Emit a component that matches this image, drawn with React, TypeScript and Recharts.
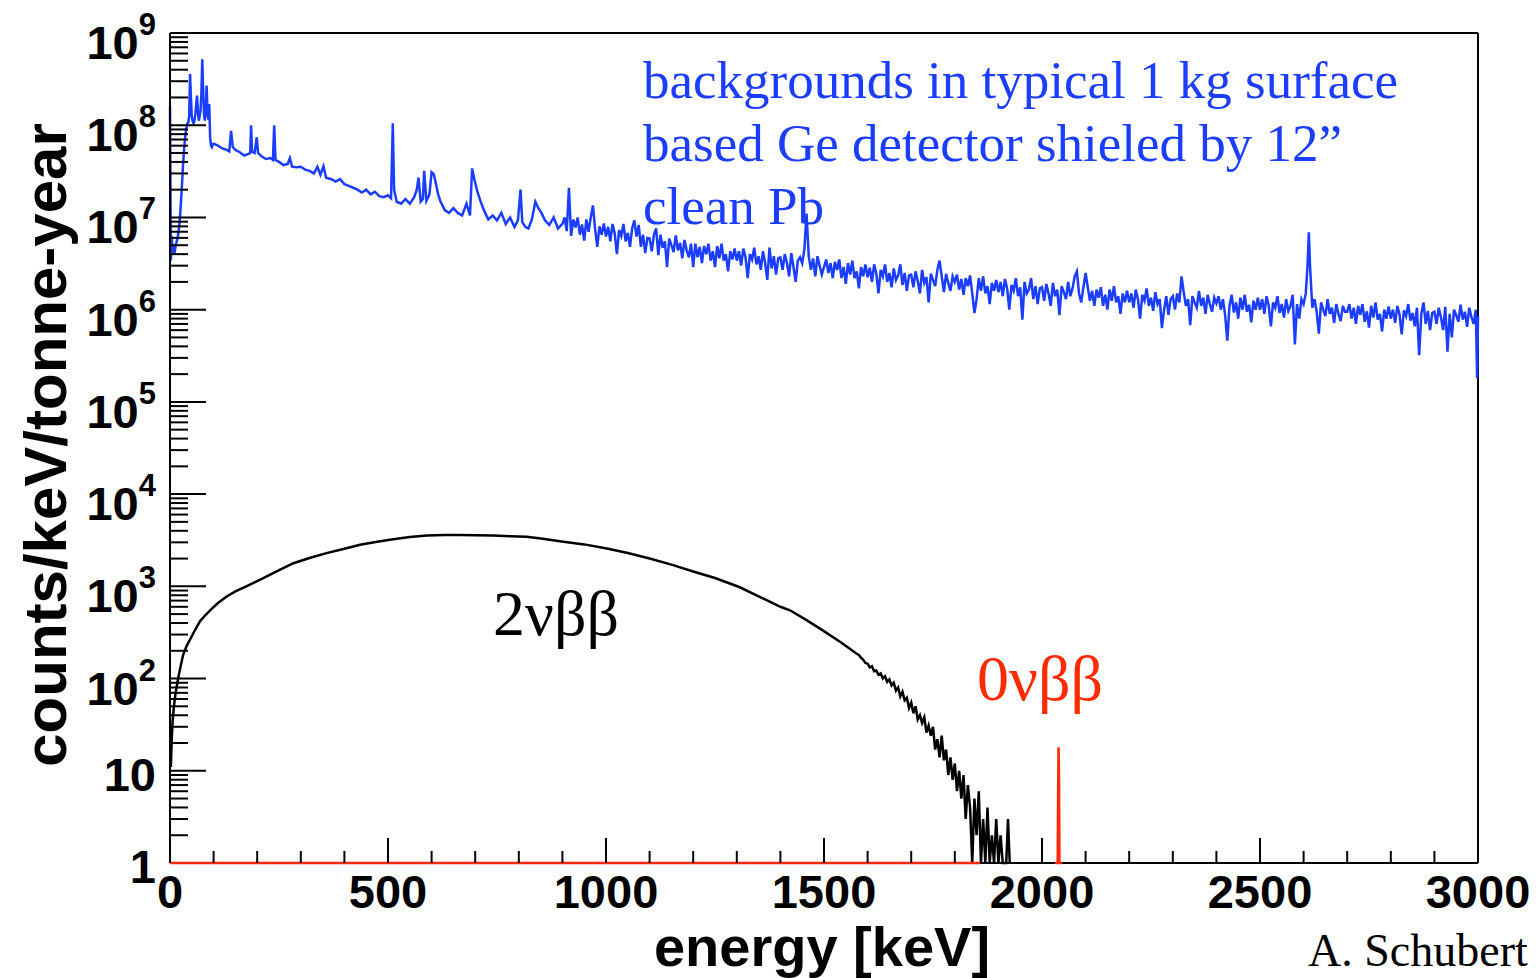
import React from 'react';
import { LineChart, Line, XAxis, YAxis, ReferenceLine } from 'recharts';

// energy [keV], counts/keV/tonne-year
const blueUpTo100: [number, number][] = [
  [0, 1.6e8], [2, 3.4e6], [4, 6.3e6], [6, 4.2e6], [8, 5.0e6], [10, 4.0e6], [12, 4.6e6], [14, 5.2e6],
  [16, 5.6e6], [18, 6.3e6], [20, 7.2e6], [22, 8.9e6], [24, 1.2e7], [26, 1.7e7], [28, 2.5e7], [30, 3.8e7],
  [32, 5.2e7], [34, 6.8e7], [36, 8.3e7], [38, 9.5e7], [40, 1.05e8], [42, 1.07e8], [44, 1.26e8], [46, 3.6e8],
  [48, 2.0e8], [50, 1.23e8], [52, 1.1e8], [54, 1.05e8], [56, 1.12e8], [58, 1.3e8], [60, 1.66e8], [62, 2.1e8],
  [64, 1.4e8], [66, 1.12e8], [68, 1.26e8], [70, 1.45e8], [72, 2.2e8], [74, 5.2e8], [76, 2.5e8], [78, 1.3e8],
  [80, 1.12e8], [82, 1.4e8], [84, 2.7e8], [86, 1.4e8], [88, 1.15e8], [90, 1.7e8], [92, 7.4e7], [94, 6.0e7],
  [96, 5.8e7], [98, 6.2e7],
];

const blueUpTo900: [number, number][] = [
  [100, 6.3e7], [110, 6.0e7], [120, 5.6e7], [130, 5.4e7], [136, 5.2e7], [140, 8.7e7], [144, 5.8e7], [150, 5.4e7],
  [160, 5.1e7], [170, 4.7e7], [180, 4.9e7], [184, 5.0e7], [186, 1.0e8], [188, 5.2e7], [194, 5.0e7], [199, 7.4e7],
  [202, 5.0e7], [210, 4.6e7], [220, 4.3e7], [230, 4.4e7], [236, 4.2e7], [239, 1.0e8], [242, 4.2e7], [250, 4.0e7],
  [260, 3.7e7], [270, 3.8e7], [275, 4.4e7], [280, 3.55e7], [290, 3.5e7], [300, 3.55e7], [310, 3.3e7], [320, 3.2e7],
  [330, 3.0e7], [338, 3.55e7], [345, 2.9e7], [352, 3.6e7], [358, 2.7e7], [370, 2.6e7], [380, 2.45e7], [390, 2.6e7],
  [400, 2.3e7], [410, 2.2e7], [420, 2.1e7], [430, 2.0e7], [440, 1.86e7], [450, 2.0e7], [460, 1.78e7], [470, 1.9e7],
  [480, 1.7e7], [490, 1.66e7], [500, 1.74e7], [507, 1.62e7], [511, 1.05e8], [514, 2.0e7], [520, 1.48e7], [530, 1.41e7],
  [540, 1.58e7], [550, 1.41e7], [560, 1.66e7], [566, 2.0e7], [570, 2.7e7], [575, 1.48e7], [580, 1.58e7], [583, 3.2e7],
  [588, 1.51e7], [595, 1.78e7], [600, 3.1e7], [605, 2.95e7], [610, 2.3e7], [615, 1.78e7], [620, 1.51e7], [630, 1.2e7],
  [640, 1.12e7], [650, 1.26e7], [660, 1.12e7], [670, 1.05e7], [680, 1.41e7], [688, 1.05e7], [693, 3.4e7], [698, 2.6e7],
  [705, 1.9e7], [712, 1.51e7], [720, 1.2e7], [730, 9.5e6], [740, 1.05e7], [750, 9.3e6], [760, 1.12e7], [770, 8.5e6],
  [780, 1.0e7], [790, 7.9e6], [798, 9.3e6], [804, 2.0e7], [808, 8.9e6], [815, 7.9e6], [822, 7.6e6], [830, 9.5e6],
  [838, 1.48e7], [845, 1.26e7], [852, 1.12e7], [860, 9.3e6], [870, 8.3e6], [880, 1.0e7], [890, 7.6e6],
];

const blueUpTo1500: [number, number][] = [
  [900, 8.5e6], [905, 1.0e7], [910, 7.1e6], [915, 2.1e7], [920, 6.3e6], [925, 9.5e6], [930, 7.8e6], [935, 1.0e7],
  [940, 6.5e6], [945, 8.4e6], [950, 5.6e6], [955, 9.5e6], [960, 7.0e6], [965, 1.0e7], [970, 1.35e7], [975, 7.5e6],
  [980, 4.8e6], [985, 8.0e6], [990, 6.5e6], [995, 8.6e6],
  [1000, 6.2e6], [1005, 7.9e6], [1010, 5.5e6], [1015, 8.5e6], [1020, 6.7e6], [1025, 4.0e6], [1030, 7.3e6], [1035, 6.3e6],
  [1040, 8.5e6], [1045, 5.5e6], [1050, 6.8e6], [1055, 4.8e6], [1060, 7.6e6], [1065, 9.3e6], [1070, 6.2e6], [1075, 8.3e6],
  [1080, 4.8e6], [1085, 6.5e6], [1090, 4.1e6], [1095, 6.0e6],
  [1100, 5.9e6], [1105, 4.3e6], [1110, 6.5e6], [1115, 7.6e6], [1120, 3.9e6], [1125, 6.5e6], [1130, 4.7e6], [1135, 5.5e6],
  [1140, 2.9e6], [1145, 5.9e6], [1150, 5.0e6], [1155, 4.2e6], [1160, 6.4e6], [1165, 4.4e6], [1170, 5.3e6], [1175, 3.6e6],
  [1180, 5.7e6], [1185, 4.4e6], [1190, 3.7e6], [1195, 5.2e6],
  [1200, 2.9e6], [1205, 5.2e6], [1210, 3.7e6], [1215, 4.8e6], [1220, 3.2e6], [1225, 4.9e6], [1230, 4.0e6], [1235, 5.2e6],
  [1240, 3.4e6], [1245, 4.3e6], [1250, 2.9e6], [1255, 4.9e6], [1260, 3.6e6], [1265, 5.2e6], [1270, 3.4e6], [1275, 4.0e6],
  [1280, 2.6e6], [1285, 4.3e6], [1290, 3.5e6], [1295, 4.6e6],
  [1300, 3.4e6], [1305, 4.3e6], [1310, 3.0e6], [1315, 4.6e6], [1320, 3.7e6], [1325, 2.2e6], [1330, 4.0e6], [1335, 3.5e6],
  [1340, 4.7e6], [1345, 3.1e6], [1350, 3.8e6], [1355, 2.7e6], [1360, 4.3e6], [1365, 3.2e6], [1370, 2.1e6], [1375, 4.7e6],
  [1380, 2.8e6], [1385, 3.8e6], [1390, 2.4e6], [1395, 3.6e6],
  [1400, 3.7e6], [1405, 2.7e6], [1410, 4.0e6], [1415, 3.2e6], [1420, 2.3e6], [1425, 4.1e6], [1430, 2.9e6], [1435, 2.0e6],
  [1440, 3.4e6], [1445, 3.7e6], [1450, 3.2e6], [1455, 4.5e6], [1460, 1.1e7], [1465, 3.8e6], [1470, 2.7e6], [1475, 3.6e6],
  [1480, 2.3e6], [1485, 3.8e6], [1490, 3.0e6], [1495, 2.4e6],
];

const blueUpTo2000: [number, number][] = [
  [1500, 2.9e6], [1505, 3.5e6], [1510, 2.5e6], [1515, 3.2e6], [1520, 2.2e6], [1525, 3.3e6], [1530, 2.7e6], [1535, 3.5e6],
  [1540, 2.2e6], [1545, 2.9e6], [1550, 1.9e6], [1555, 3.2e6], [1560, 2.4e6], [1565, 3.4e6], [1570, 2.2e6], [1575, 2.6e6],
  [1580, 1.7e6], [1585, 2.9e6], [1590, 2.3e6], [1595, 3.1e6],
  [1600, 2.25e6], [1605, 2.85e6], [1610, 2.0e6], [1615, 3.1e6], [1620, 2.45e6], [1625, 1.5e6], [1630, 2.7e6], [1635, 2.3e6],
  [1640, 3.1e6], [1645, 2.0e6], [1650, 2.5e6], [1655, 1.75e6], [1660, 2.8e6], [1665, 2.1e6], [1670, 2.35e6], [1675, 3.1e6],
  [1680, 1.85e6], [1685, 2.5e6], [1690, 1.6e6], [1695, 2.35e6],
  [1700, 2.4e6], [1705, 1.75e6], [1710, 2.6e6], [1715, 2.05e6], [1720, 1.5e6], [1725, 2.7e6], [1730, 1.95e6], [1735, 2.25e6],
  [1740, 1.2e6], [1745, 2.45e6], [1750, 2.1e6], [1755, 1.8e6], [1760, 2.7e6], [1765, 3.4e6], [1770, 2.3e6], [1775, 1.55e6],
  [1780, 2.45e6], [1785, 1.95e6], [1790, 1.6e6], [1795, 2.3e6],
  [1800, 2.0e6], [1805, 2.4e6], [1810, 1.65e6], [1815, 2.15e6], [1820, 1.45e6], [1825, 2.2e6], [1830, 1.8e6], [1835, 2.35e6],
  [1840, 1.5e6], [1845, 9.2e5], [1850, 1.3e6], [1855, 2.2e6], [1860, 1.6e6], [1865, 2.3e6], [1870, 1.5e6], [1875, 1.8e6],
  [1880, 1.15e6], [1885, 1.95e6], [1890, 1.6e6], [1895, 2.1e6],
  [1900, 1.55e6], [1905, 2.0e6], [1910, 1.4e6], [1915, 2.15e6], [1920, 1.7e6], [1925, 1.0e6], [1930, 1.85e6], [1935, 1.6e6],
  [1940, 2.2e6], [1945, 1.4e6], [1950, 1.75e6], [1955, 7.8e5], [1960, 2.0e6], [1965, 1.5e6], [1970, 1.65e6], [1975, 2.2e6],
  [1980, 1.3e6], [1985, 1.8e6], [1990, 1.15e6], [1995, 1.7e6],
];

const blueUpTo2500: [number, number][] = [
  [2000, 1.75e6], [2005, 1.25e6], [2010, 1.9e6], [2015, 1.5e6], [2020, 1.1e6], [2025, 1.95e6], [2030, 1.4e6], [2035, 1.65e6],
  [2040, 8.7e5], [2045, 1.8e6], [2050, 1.55e6], [2055, 1.3e6], [2060, 2.0e6], [2065, 1.4e6], [2070, 1.7e6], [2075, 2.3e6],
  [2080, 2.6e6], [2085, 1.5e6], [2090, 1.2e6], [2095, 1.75e6],
  [2100, 2.5e6], [2105, 1.75e6], [2110, 1.25e6], [2115, 1.6e6], [2120, 1.1e6], [2125, 1.65e6], [2130, 1.35e6], [2135, 1.75e6],
  [2140, 1.1e6], [2145, 1.45e6], [2150, 1.0e6], [2155, 1.65e6], [2160, 1.25e6], [2165, 1.8e6], [2170, 1.2e6], [2175, 1.4e6],
  [2180, 9.0e5], [2185, 1.5e6], [2190, 1.2e6], [2195, 1.6e6],
  [2200, 1.2e6], [2205, 1.5e6], [2210, 1.05e6], [2215, 1.65e6], [2220, 1.3e6], [2225, 8.0e5], [2230, 1.45e6], [2235, 1.25e6],
  [2240, 1.7e6], [2245, 1.1e6], [2250, 1.35e6], [2255, 9.7e5], [2260, 1.55e6], [2265, 1.15e6], [2270, 1.3e6], [2275, 6.3e5],
  [2280, 1.0e6], [2285, 1.4e6], [2290, 8.8e5], [2295, 1.3e6],
  [2300, 1.4e6], [2305, 1.0e6], [2310, 1.5e6], [2315, 1.2e6], [2320, 2.3e6], [2325, 1.55e6], [2330, 1.1e6], [2335, 1.3e6],
  [2340, 6.8e5], [2345, 1.4e6], [2350, 1.2e6], [2355, 1.05e6], [2360, 1.6e6], [2365, 1.1e6], [2370, 1.35e6], [2375, 9.0e5],
  [2380, 1.45e6], [2385, 1.15e6], [2390, 9.5e5], [2395, 1.35e6],
  [2400, 1.17e6], [2405, 1.4e6], [2410, 1.0e6], [2415, 1.3e6], [2420, 8.8e5], [2425, 4.6e5], [2430, 1.1e6], [2435, 1.45e6],
  [2440, 9.3e5], [2445, 1.2e6], [2450, 8.0e5], [2455, 1.35e6], [2460, 1.0e6], [2465, 1.45e6], [2470, 9.5e5], [2475, 1.13e6],
  [2480, 7.3e5], [2485, 1.25e6], [2490, 1.0e6], [2495, 1.35e6],
];

const blueUpTo3000: [number, number][] = [
  [2500, 1.0e6], [2505, 1.3e6], [2510, 9.0e5], [2515, 1.4e6], [2520, 1.1e6], [2525, 6.6e5], [2530, 1.2e6], [2535, 1.05e6],
  [2540, 1.4e6], [2545, 9.2e5], [2550, 1.15e6], [2555, 8.2e5], [2560, 1.3e6], [2565, 9.7e5], [2570, 1.1e6], [2575, 1.45e6],
  [2580, 4.2e5], [2585, 1.15e6], [2590, 8.0e5], [2595, 1.3e6],
  [2600, 1.15e6], [2605, 1.5e6], [2609, 3.0e6], [2612, 6.9e6], [2615, 2.8e6], [2620, 1.05e6], [2625, 1.3e6], [2630, 9.5e5],
  [2635, 5.5e5], [2640, 1.2e6], [2645, 1.0e6], [2650, 8.5e5], [2655, 1.3e6], [2660, 9.0e5], [2665, 1.05e6], [2670, 7.2e5],
  [2675, 1.15e6], [2680, 9.0e5], [2685, 7.5e5], [2690, 1.1e6], [2695, 9.5e5],
  [2700, 9.5e5], [2705, 1.15e6], [2710, 8.0e5], [2715, 1.05e6], [2720, 7.0e5], [2725, 1.1e6], [2730, 8.8e5], [2735, 1.15e6],
  [2740, 7.4e5], [2745, 9.6e5], [2750, 6.4e5], [2755, 1.1e6], [2760, 8.2e5], [2765, 1.2e6], [2770, 7.8e5], [2775, 9.0e5],
  [2780, 5.8e5], [2785, 1.0e6], [2790, 8.0e5], [2795, 1.08e6],
  [2800, 8.0e5], [2805, 1.0e6], [2810, 7.2e5], [2815, 1.1e6], [2820, 8.9e5], [2825, 5.4e5], [2830, 9.8e5], [2835, 8.5e5],
  [2840, 1.15e6], [2845, 7.6e5], [2850, 9.2e5], [2855, 6.6e5], [2860, 1.05e6], [2865, 3.2e5], [2870, 9.0e5], [2875, 1.2e6],
  [2880, 7.0e5], [2885, 9.7e5], [2890, 6.0e5], [2895, 9.2e5],
  [2900, 9.5e5], [2905, 7.0e5], [2910, 1.05e6], [2915, 8.3e5], [2920, 6.0e5], [2925, 1.07e6], [2930, 3.5e5], [2935, 9.0e5],
  [2940, 5.0e5], [2945, 1.0e6], [2950, 8.7e5], [2955, 7.4e5], [2960, 1.13e6], [2965, 7.8e5], [2970, 9.5e5], [2975, 6.5e5],
  [2980, 1.05e6], [2985, 8.3e5], [2990, 7.0e5], [2995, 1.0e6], [2998, 1.8e5], [3000, 8.5e5],
];

const twoNuSmooth: [number, number][] = [
  [2, 11], [4, 22], [6, 35], [9, 50], [12, 65], [16, 85], [20, 108], [25, 140], [30, 180], [38, 225], [46, 265],
  [55, 320], [69, 420], [80, 480], [92, 550], [110, 660], [130, 775], [150, 880], [175, 1000], [206, 1175],
  [240, 1420], [283, 1780], [320, 2030], [359, 2290], [400, 2560], [436, 2820], [475, 3050], [512, 3240],
  [550, 3420], [589, 3550], [630, 3600], [665, 3600], [700, 3590], [741, 3550], [780, 3500], [818, 3450],
  [855, 3280], [894, 3090], [950, 2850], [1002, 2570], [1050, 2300], [1100, 2000], [1154, 1700], [1200, 1450],
  [1250, 1230], [1307, 977], [1350, 780], [1400, 600], [1422, 550], [1460, 430], [1498, 331], [1540, 245], [1575, 186],
];

const twoNuTail: [number, number][] = [
  [1580, 180], [1585, 168], [1590, 160], [1595, 148], [1600, 145], [1605, 132], [1610, 136], [1615, 120],
  [1620, 122], [1625, 110], [1630, 114], [1635, 100], [1640, 106], [1645, 92], [1650, 98], [1655, 84],
  [1660, 90], [1665, 74], [1670, 80], [1675, 64], [1680, 72], [1685, 58], [1690, 62], [1695, 48],
  [1700, 55], [1705, 42], [1710, 50], [1715, 36], [1720, 40], [1725, 33], [1730, 38], [1735, 26],
  [1740, 31], [1745, 24], [1750, 30], [1755, 17], [1760, 22], [1765, 14], [1770, 24], [1775, 13],
  [1780, 17], [1785, 9], [1790, 14], [1795, 8], [1800, 12], [1805, 6], [1810, 10], [1815, 5],
  [1820, 9], [1825, 3], [1830, 7], [1835, 4], [1840, 1], [1845, 5], [1850, 2], [1855, 6],
  [1860, 1], [1865, 3], [1870, 1], [1875, 4], [1880, 1], [1885, 2], [1890, 1], [1895, 3],
  [1900, 1], [1905, 2], [1910, 1], [1918, 1], [1922, 3], [1926, 1],
];

// 0vbb line at Q = 2039 keV, empty bins sit on the axis floor
const zeroNu: [number, number | null][] = [
  [0, 1], [1858, 1], [1900, null], [2030, 1], [2036, 1], [2037, 6], [2038, 18], [2039, 8], [2040, 1], [2046, 1],
];

const xTicks = [
  0, 100, 200, 300, 400, 500, 600, 700, 800, 900, 1000, 1100, 1200, 1300, 1400, 1500,
  1600, 1700, 1800, 1900, 2000, 2100, 2200, 2300, 2400, 2500, 2600, 2700, 2800, 2900, 3000,
];
const xLabels = [0, 500, 1000, 1500, 2000, 2500, 3000];

const yTicks = [
  1, 2, 3, 4, 5, 6, 7, 8, 9,
  10, 20, 30, 40, 50, 60, 70, 80, 90,
  1e2, 2e2, 3e2, 4e2, 5e2, 6e2, 7e2, 8e2, 9e2,
  1e3, 2e3, 3e3, 4e3, 5e3, 6e3, 7e3, 8e3, 9e3,
  1e4, 2e4, 3e4, 4e4, 5e4, 6e4, 7e4, 8e4, 9e4,
  1e5, 2e5, 3e5, 4e5, 5e5, 6e5, 7e5, 8e5, 9e5,
  1e6, 2e6, 3e6, 4e6, 5e6, 6e6, 7e6, 8e6, 9e6,
  1e7, 2e7, 3e7, 4e7, 5e7, 6e7, 7e7, 8e7, 9e7,
  1e8, 2e8, 3e8, 4e8, 5e8, 6e8, 7e8, 8e8, 9e8,
  1e9,
];
const yDecades = [1, 10, 1e2, 1e3, 1e4, 1e5, 1e6, 1e7, 1e8, 1e9];

const BLUE = '#1a3dff';
const RED = '#ff2a00';
const SANS = '"Liberation Sans", Arial, Helvetica, sans-serif';
const SERIF = '"Liberation Serif", "Times New Roman", serif';

const toPoints = (pairs: [number, number | null][]) => pairs.map(([e, v]) => ({ e, v }));

const blueData = toPoints([
  ...blueUpTo100, ...blueUpTo900, ...blueUpTo1500, ...blueUpTo2000, ...blueUpTo2500, ...blueUpTo3000,
]);
const twoNuData = toPoints([...twoNuSmooth, ...twoNuTail]);
const zeroNuData = toPoints(zeroNu);

const XTick = (props: any) => {
  const { x, y, payload } = props;
  const major = xLabels.includes(payload.value);
  return (
    <g>
      <line x1={x} x2={x} y1={y} y2={y - (major ? 25 : 12)} stroke="#000" strokeWidth={2} />
      {major && (
        <text x={x} y={y + 45} textAnchor="middle" fontFamily={SANS} fontWeight="bold" fontSize={47} fill="#000">
          {payload.value}
        </text>
      )}
    </g>
  );
};

const YTick = (props: any) => {
  const { x, y, payload } = props;
  const exp = yDecades.indexOf(payload.value);
  const major = exp >= 0;
  let label: React.ReactNode = null;
  if (exp === 0 || exp === 1) {
    label = (
      <text x={x - 14} y={y + 20} textAnchor="end" fontFamily={SANS} fontWeight="bold" fontSize={47} fill="#000">
        {exp === 0 ? '1' : '10'}
      </text>
    );
  } else if (major) {
    label = (
      <text x={x - 14} y={y + 26} textAnchor="end" fontFamily={SANS} fontWeight="bold" fontSize={47} fill="#000">
        10<tspan dy={-24} fontSize={31}>{exp}</tspan>
      </text>
    );
  }
  return (
    <g>
      {exp !== 0 && <line x1={x} x2={x + (major ? 36 : 18)} y1={y} y2={y} stroke="#000" strokeWidth={2} />}
      {label}
    </g>
  );
};

const App: React.FC = () => {
  return (
    <div style={{ position: 'absolute', left: 0, top: 0, width: 1540, height: 978, background: '#fff', overflow: 'hidden' }}>
      <LineChart width={1540} height={978} margin={{ top: 33, right: 62, bottom: 0, left: 0 }}>
        <XAxis
          dataKey="e"
          type="number"
          domain={[0, 3000]}
          ticks={xTicks}
          interval={0}
          tickLine={false}
          tickSize={0}
          tickMargin={0}
          tick={<XTick />}
          height={115}
          axisLine={false}
        />
        <YAxis
          dataKey="v"
          type="number"
          scale="log"
          domain={[1, 1e9]}
          ticks={yTicks}
          interval={0}
          tickLine={false}
          tickSize={0}
          tickMargin={0}
          tick={<YTick />}
          width={170}
          axisLine={{ stroke: '#000', strokeWidth: 2 }}
        />
        <ReferenceLine y={1e9} stroke="#000" strokeWidth={2} ifOverflow="visible" />
        <ReferenceLine x={3000} stroke="#000" strokeWidth={2} ifOverflow="visible" />
        <ReferenceLine segment={[{ x: 1858, y: 1 }, { x: 3000, y: 1 }]} stroke="#000" strokeWidth={2} ifOverflow="visible" />
        <Line data={twoNuData} dataKey="v" type="linear" stroke="#000" strokeWidth={2.5} dot={false} activeDot={false} isAnimationActive={false} />
        <Line data={zeroNuData} dataKey="v" type="linear" stroke={RED} strokeWidth={2.5} dot={false} activeDot={false} isAnimationActive={false} connectNulls={false} />
        <Line data={blueData} dataKey="v" type="linear" stroke={BLUE} strokeWidth={2.5} dot={false} activeDot={false} isAnimationActive={false} />
      </LineChart>
      <svg width={1540} height={978} style={{ position: 'absolute', left: 0, top: 0, pointerEvents: 'none' }}>
        <text transform="translate(66,445) rotate(-90)" textAnchor="middle" fontFamily={SANS} fontWeight="bold" fontSize={60} fill="#000">
          counts/keV/tonne-year
        </text>
        <text x={822} y={966} textAnchor="middle" fontFamily={SANS} fontWeight="bold" fontSize={56} fill="#000">
          energy [keV]
        </text>
        <g fontFamily={SERIF} fontSize={53} fill={BLUE}>
          <text x={643} y={98}>backgrounds in typical 1 kg surface</text>
          <text x={643} y={161}>based Ge detector shieled by 12”</text>
          <text x={643} y={224}>clean Pb</text>
        </g>
        <text x={493} y={635} fontFamily={SERIF} fontSize={64} fill="#000">2νββ</text>
        <text x={977} y={700} fontFamily={SERIF} fontSize={64} fill={RED}>0νββ</text>
        <text x={1308} y={966} fontFamily={SERIF} fontSize={46} fill="#000">A. Schubert</text>
      </svg>
    </div>
  );
};

export default App;
